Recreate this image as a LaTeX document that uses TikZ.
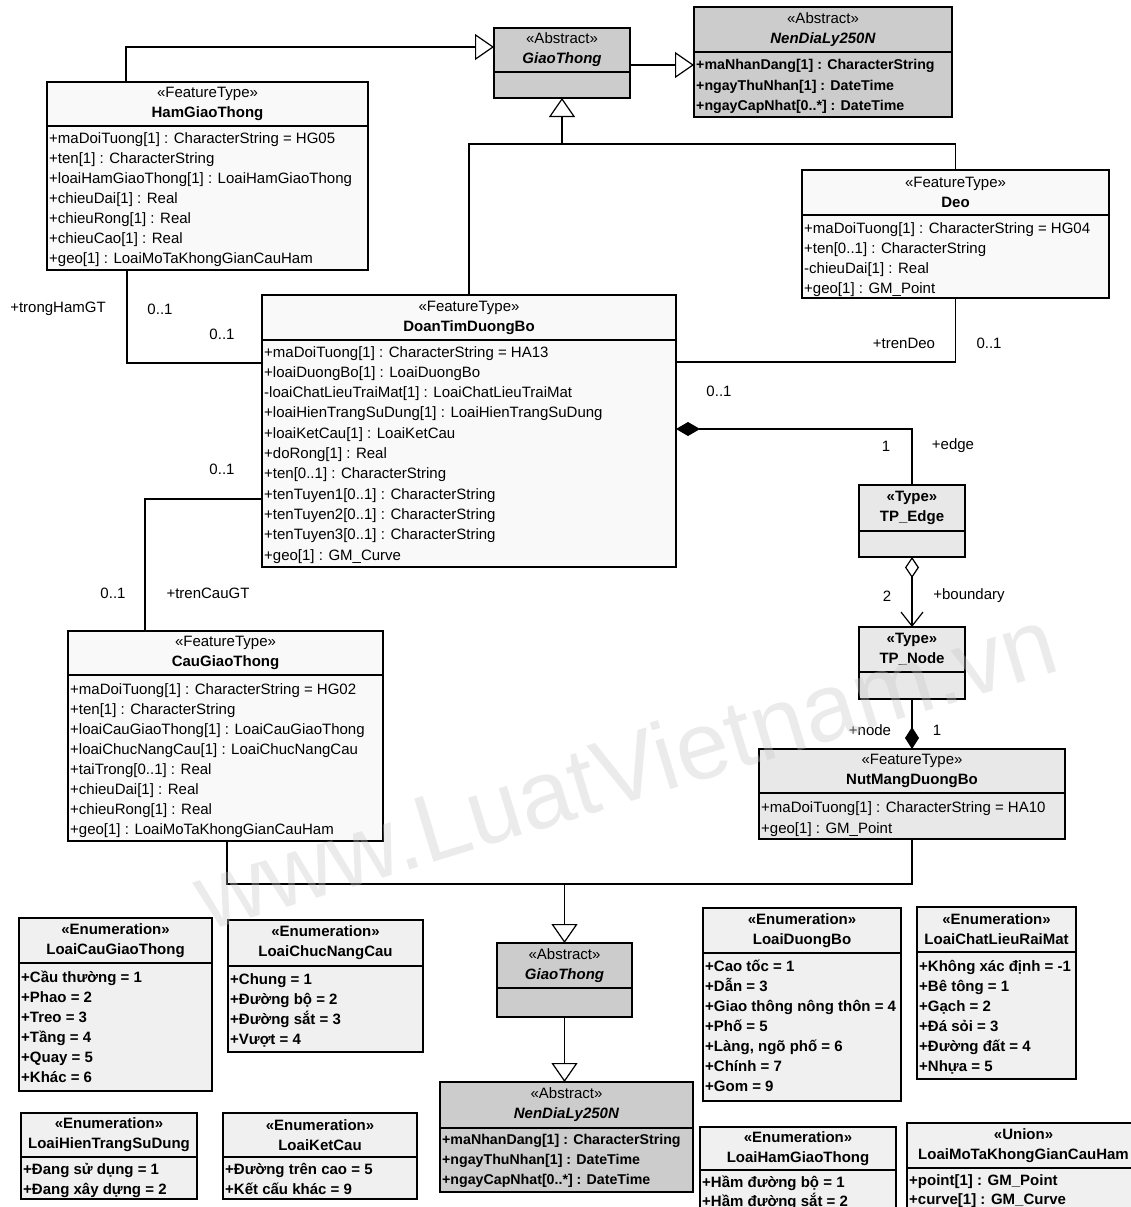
\documentclass[tikz,border=0pt]{standalone}
\usepackage{fontspec}
\setmainfont{Liberation Sans}
\usetikzlibrary{arrows.meta,calc}

\newcommand\fs{\fontsize{15}{20}\selectfont}
\newcommand\fsn{\fontsize{14.2}{20}\selectfont}

\tikzset{
  classbox/.style={draw, line width=1.5pt, inner sep=0pt, outer sep=0pt},
  classline/.style={line width=1.5pt},
  feat/.style={fill=gray!5},
  dark/.style={fill=gray!40},
  mid/.style={fill=gray!18},
  enumf/.style={fill=gray!12},
  hdr/.style={align=center, inner sep=0pt, font=\fs},
  row/.style={anchor=base west, inner sep=0pt, font=\fs},
  bold/.style={font=\fs\bfseries},
  narrowbold/.style={font=\fsn\bfseries},
  lbl/.style={inner sep=0pt, font=\fs},
  conn/.style={line width=1.2pt},
  gen/.style={conn, -{Triangle[open,length=19pt,width=26pt]}},
  comp/.style={conn, -{Diamond[length=24pt,width=14pt]}},
  agg/.style={conn, {Diamond[open,length=21pt,width=14pt]}-{Straight Barb[length=14pt,width=22pt]}},
  watermark/.style={inner sep=0pt, font=\fontsize{96}{96}\selectfont, text=gray!45, text opacity=0.35},
}

% class box: name, left, top, right, bottom, divider, fill style, header text
\newcommand\umlclass[8]{%
  \node[classbox,#7,minimum width={#4-#2},minimum height={#5-#3}] (#1) at ({(#2+#4)/2},{(#3+#5)/2}) {};
  \draw[classline] (#1.west |- 0,#6) -- (#1.east |- 0,#6);
  \node[hdr] (#1-hdr) at ({(#2+#4)/2},{(#3+#6)/2}) {#8};
}
% attribute rows: name, x, first baseline, step, style, list
\newcommand\umlrows[6]{%
  \foreach \txt [count=\k] in {#6}{%
    \node[row,#5] (#1-r\k) at (#2,{#3+(\k-1)*#4}) {\txt};
  }%
}

\begin{document}
\begin{tikzpicture}[x=1pt,y=-1pt]
\useasboundingbox (0,0) rectangle (1130,1207);

% ---------- upper part ----------
\umlclass{giao}{494}{28}{630}{98}{72}{dark}{«Abstract»\\\textbf{\textit{GiaoThong}}}

\umlclass{nen}{694}{7}{952}{117}{52}{dark}{«Abstract»\\\textbf{\textit{NenDiaLy250N}}}
\umlrows{nen}{696}{70}{20}{narrowbold}{+maNhanDang[1] : CharacterString,+ngayThuNhan[1] : DateTime,+ngayCapNhat[0..*] : DateTime}

\umlclass{ham}{47}{82}{368}{270}{126}{feat}{«FeatureType»\\\textbf{HamGiaoThong}}
\umlrows{ham}{49}{143}{20.1}{}{+maDoiTuong[1] : CharacterString = HG05,+ten[1] : CharacterString,+loaiHamGiaoThong[1] : LoaiHamGiaoThong,+chieuDai[1] : Real,+chieuRong[1] : Real,+chieuCao[1] : Real,+geo[1] : LoaiMoTaKhongGianCauHam}

\umlclass{deo}{802}{170}{1109}{298}{215}{feat}{«FeatureType»\\\textbf{Deo}}
\umlrows{deo}{804}{233}{20}{}{+maDoiTuong[1] : CharacterString = HG04,+ten[0..1] : CharacterString,-chieuDai[1] : Real,+geo[1] : GM\_Point}

\umlclass{doan}{262}{295}{676}{567}{340}{feat}{«FeatureType»\\\textbf{DoanTimDuongBo}}
\umlrows{doan}{264}{357}{20.3}{}{+maDoiTuong[1] : CharacterString = HA13,+loaiDuongBo[1] : LoaiDuongBo,-loaiChatLieuTraiMat[1] : LoaiChatLieuTraiMat,+loaiHienTrangSuDung[1] : LoaiHienTrangSuDung,+loaiKetCau[1] : LoaiKetCau,+doRong[1] : Real,+ten[0..1] : CharacterString,+tenTuyen1[0..1] : CharacterString,+tenTuyen2[0..1] : CharacterString,+tenTuyen3[0..1] : CharacterString,+geo[1] : GM\_Curve}

\umlclass{edge}{859}{485}{965}{557}{531}{mid}{\textbf{«Type»}\\\textbf{TP\_Edge}}
\umlclass{tpnode}{859}{627}{965}{699}{672}{mid}{\textbf{«Type»}\\\textbf{TP\_Node}}

\umlclass{nut}{759}{749}{1065}{839}{793}{mid}{«FeatureType»\\\textbf{NutMangDuongBo}}
\umlrows{nut}{761}{812}{21}{}{+maDoiTuong[1] : CharacterString = HA10,+geo[1] : GM\_Point}

\umlclass{cau}{68}{631}{383}{841}{675}{feat}{«FeatureType»\\\textbf{CauGiaoThong}}
\umlrows{cau}{70}{694}{20}{}{+maDoiTuong[1] : CharacterString = HG02,+ten[1] : CharacterString,+loaiCauGiaoThong[1] : LoaiCauGiaoThong,+loaiChucNangCau[1] : LoaiChucNangCau,+taiTrong[0..1] : Real,+chieuDai[1] : Real,+chieuRong[1] : Real,+geo[1] : LoaiMoTaKhongGianCauHam}

% ---------- lower part ----------
\umlclass{giao2}{497}{943}{632}{1017}{988}{dark}{«Abstract»\\\textbf{\textit{GiaoThong}}}
\umlclass{nen2}{440}{1082}{693}{1192}{1128}{dark}{«Abstract»\\\textbf{\textit{NenDiaLy250N}}}
\umlrows{nen2}{442}{1144}{20}{narrowbold}{+maNhanDang[1] : CharacterString,+ngayThuNhan[1] : DateTime,+ngayCapNhat[0..*] : DateTime}

\umlclass{e1}{19}{918}{212}{1091}{963}{enumf}{\textbf{«Enumeration»}\\\textbf{LoaiCauGiaoThong}}
\umlrows{e1}{21}{982}{20}{bold}{+Cầu thường = 1,+Phao = 2,+Treo = 3,+Tầng = 4,+Quay = 5,+Khác = 6}

\umlclass{e2}{228}{920}{423}{1052}{966}{enumf}{\textbf{«Enumeration»}\\\textbf{LoaiChucNangCau}}
\umlrows{e2}{230}{984}{20}{bold}{+Chung = 1,+Đường bộ = 2,+Đường sắt = 3,+Vượt = 4}

\umlclass{e3}{21}{1113}{197}{1199}{1157}{enumf}{\textbf{«Enumeration»}\\\textbf{LoaiHienTrangSuDung}}
\umlrows{e3}{23}{1174}{20}{bold}{+Đang sử dụng = 1,+Đang xây dựng = 2}

\umlclass{e4}{223}{1113}{417}{1199}{1157}{enumf}{\textbf{«Enumeration»}\\\textbf{LoaiKetCau}}
\umlrows{e4}{225}{1174}{20}{bold}{+Đường trên cao = 5,+Kết cấu khác = 9}

\umlclass{e5}{703}{908}{901}{1101}{953}{enumf}{\textbf{«Enumeration»}\\\textbf{LoaiDuongBo}}
\umlrows{e5}{705}{971}{20}{bold}{+Cao tốc = 1,+Dẫn = 3,+Giao thông nông thôn = 4,+Phố = 5,{+Làng, ngõ phố = 6},+Chính = 7,+Gom = 9}

\umlclass{e6}{917}{907}{1076}{1079}{952}{enumf}{\textbf{«Enumeration»}\\\textbf{LoaiChatLieuRaiMat}}
\umlrows{e6}{919}{971}{20}{bold}{+Không xác định = -1,+Bê tông = 1,+Gạch = 2,+Đá sỏi = 3,+Đường đất = 4,+Nhựa = 5}

\umlclass{e7}{700}{1127}{896}{1215}{1170}{enumf}{\textbf{«Enumeration»}\\\textbf{LoaiHamGiaoThong}}
\umlrows{e7}{702}{1187}{19.5}{bold}{+Hầm đường bộ = 1,+Hầm đường sắt = 2}

\umlclass{e8}{907}{1123}{1140}{1215}{1168}{enumf}{\textbf{«Union»}\\\textbf{LoaiMoTaKhongGianCauHam}}
\umlrows{e8}{909}{1185}{19.5}{bold}{+point[1] : GM\_Point,+curve[1] : GM\_Curve}

% ---------- connectors ----------
\draw[gen] ([xshift=-81.5pt]ham.north) |- ([yshift=16pt]giao.west);
\draw[gen] ([yshift=-2pt]giao.east) -- ([yshift=-2pt]giao.east -| nen.west);

\coordinate (j1) at ($(giao.south)+(0,46)$);
\draw[conn] (doan.north) |- (j1);
\draw[conn] (deo.north) |- (j1);
\draw[gen] (j1) -- (giao.south);

\draw[conn] ([xshift=-80.5pt]ham.south) |- ([yshift=68pt]doan.west);
\draw[conn] ([xshift=-80.5pt]cau.north) |- ([yshift=-68pt]doan.west);
\draw[conn] (deo.south) |- ([yshift=69pt]doan.east);

\draw[comp] (edge.north) |- ([yshift=2pt]doan.east);
\draw[agg] (edge.south) -- (tpnode.north);
\draw[conn, -{Diamond[length=22pt,width=14pt]}] (tpnode.south) -- (nut.north);

\coordinate (j2) at ($(giao2.north)+(0,-59)$);
\draw[conn] ([xshift=1.5pt]cau.south) |- (j2) -| (nut.south);
\draw[gen] (j2) -- (giao2.north);
\draw[gen] (giao2.south) -- (giao2.south |- nen2.north);

% ---------- role names and multiplicities ----------
\node[lbl] (l1) at (58,309) {+trongHamGT};
\node[lbl] (l2) at (160,309) {0..1};
\node[lbl] (l3) at (222,334) {0..1};
\node[lbl] (l4) at (222,469) {0..1};
\node[lbl] (l5) at (113,593) {0..1};
\node[lbl] (l6) at (208,593) {+trenCauGT};
\node[lbl] (l7) at (904,343) {+trenDeo};
\node[lbl] (l8) at (989,343) {0..1};
\node[lbl] (l9) at (719,391) {0..1};
\node[lbl] (l10) at (886,446) {1};
\node[lbl] (l11) at (953,446) {+edge};
\node[lbl] (l12) at (887,596) {2};
\node[lbl] (l13) at (969,596) {+boundary};
\node[lbl] (l14) at (870,730) {+node};
\node[lbl] (l15) at (937,730) {1};

% ---------- site mark ----------
\node[watermark, rotate=17] (wm) at (625,768) {www.LuatVietnam.vn};
\end{tikzpicture}
\end{document}
